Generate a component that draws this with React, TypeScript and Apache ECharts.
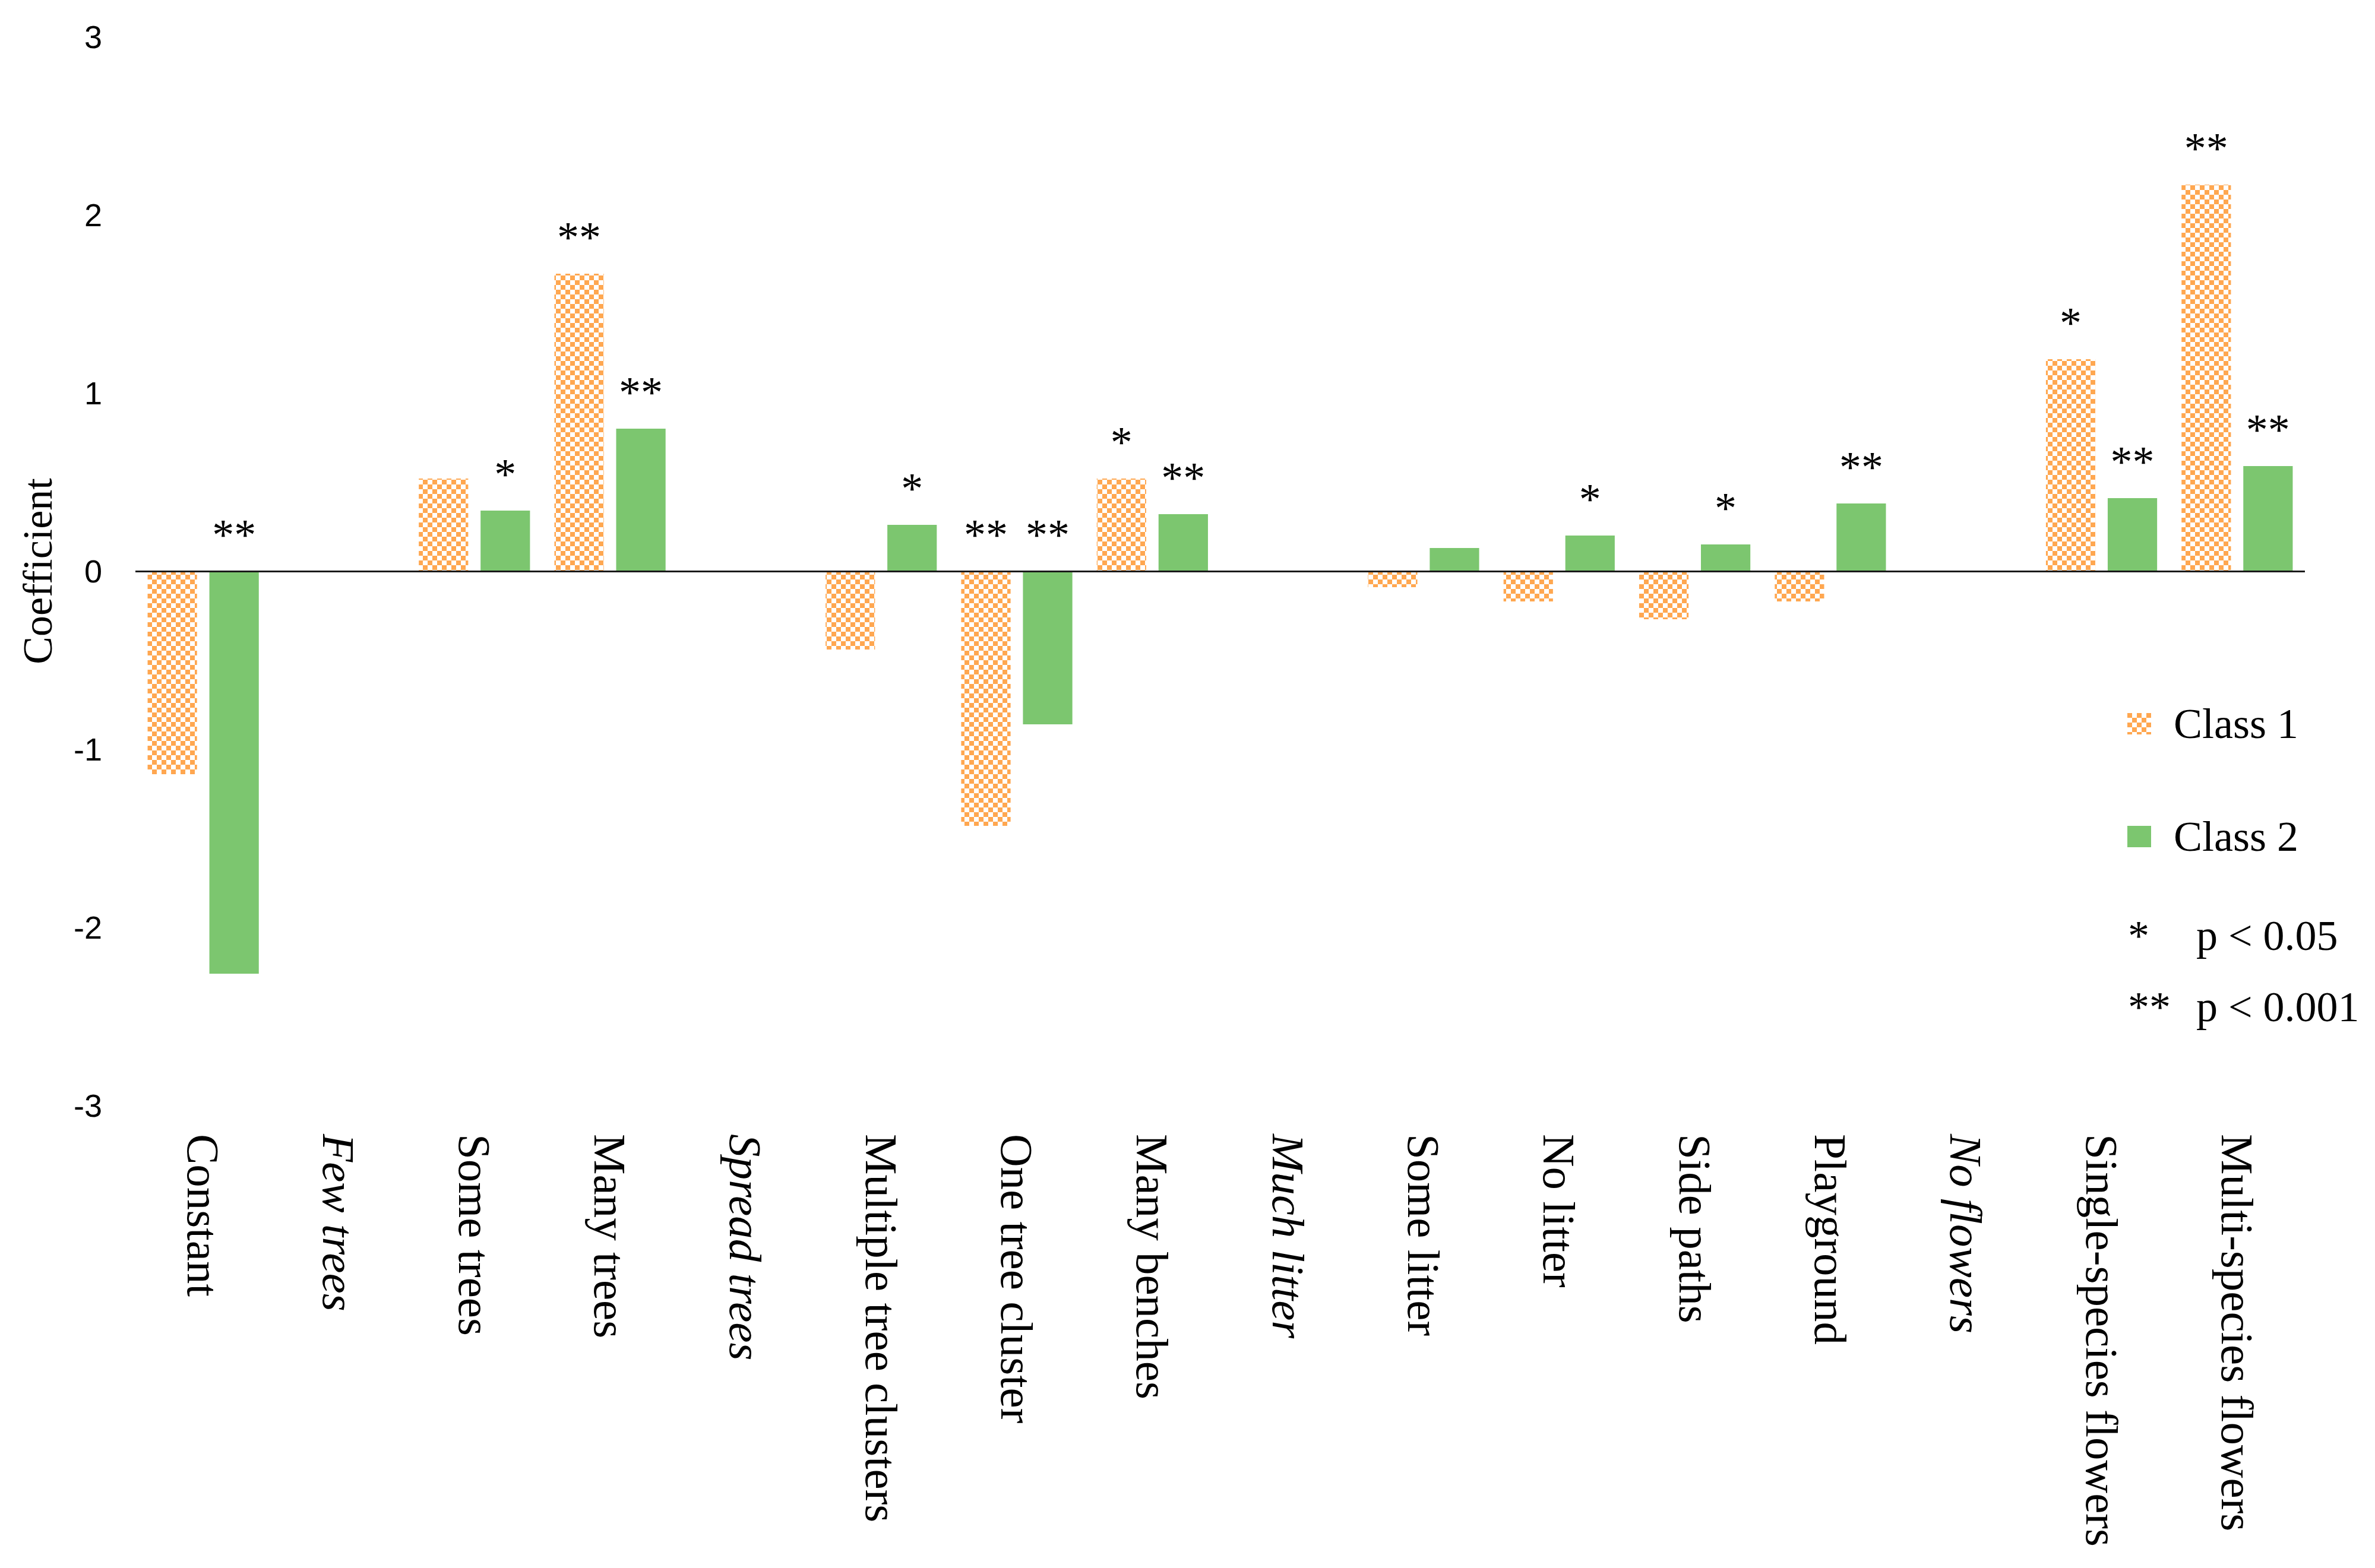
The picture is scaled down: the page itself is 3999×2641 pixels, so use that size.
import React, { useEffect, useRef } from "react";
import * as echarts from "echarts";

const categories = [
  "Constant",
  "Few trees",
  "Some trees",
  "Many trees",
  "Spread trees",
  "Multiple tree clusters",
  "One tree cluster",
  "Many benches",
  "Much litter",
  "Some litter",
  "No litter",
  "Side paths",
  "Playground",
  "No flowers",
  "Single-species flowers",
  "Multi-species flowers",
];

const referenceLevels = ["Few trees", "Spread trees", "Much litter", "No flowers"];

const class1Values = [-1.14, null, 0.52, 1.67, null, -0.44, -1.43, 0.52, null, -0.09, -0.17, -0.27, -0.17, null, 1.19, 2.17];
const class2Values = [-2.26, null, 0.34, 0.8, null, 0.26, -0.86, 0.32, null, 0.13, 0.2, 0.15, 0.38, null, 0.41, 0.59];

const class1Sig = ["", "", "", "**", "", "", "**", "*", "", "", "", "", "", "", "*", "**"];
const class2Sig = ["**", "", "*", "**", "", "*", "**", "**", "", "", "*", "*", "**", "", "**", "**"];

const yTicks = { min: -3, max: 3, interval: 1 };

const sigLegend = [
  { mark: "*", text: "p < 0.05" },
  { mark: "**", text: "p < 0.001" },
];

const SERIF = "'Liberation Serif', 'Times New Roman', serif";
const SANS = "'Liberation Sans', Arial, sans-serif";
const ORANGE = "#FFA750";
const GREEN = "#7CC66F";

function makeChecker() {
  const c = document.createElement("canvas");
  c.width = 16;
  c.height = 16;
  const ctx = c.getContext("2d")!;
  ctx.fillStyle = "#ffffff";
  ctx.fillRect(0, 0, 16, 16);
  ctx.fillStyle = ORANGE;
  ctx.fillRect(0, 0, 8, 8);
  ctx.fillRect(8, 8, 8, 8);
  return { image: c, repeat: "repeat", imageWidth: 16, imageHeight: 16 } as any;
}

export default function App() {
  const ref = useRef<HTMLDivElement>(null);

  useEffect(() => {
    if (!ref.current) return;
    const chart = echarts.init(ref.current, null, { renderer: "svg" });
    const checker = makeChecker();

    const starLabel = (sig: string[]) => ({
      show: true,
      position: "top",
      distance: 24,
      fontFamily: SERIF,
      fontSize: 74,
      color: "#000",
      formatter: (p: any) => sig[p.dataIndex] || "",
    });

    const legendCommon = {
      left: 3582,
      orient: "vertical",
      padding: 0,
      itemWidth: 40,
      itemHeight: 36,
      icon: "rect",
      selectedMode: false,
      textStyle: {
        fontFamily: SERIF,
        fontSize: 72,
        color: "#000",
        lineHeight: 36,
        padding: [0, 0, 0, 33],
      },
    };

    const option: any = {
      animation: false,
      backgroundColor: "#ffffff",
      grid: { left: 228, right: 118, top: 62, bottom: 779, containLabel: false },
      legend: [
        { ...legendCommon, data: ["Class 1"], top: 1183 },
        { ...legendCommon, data: ["Class 2"], top: 1373 },
      ],
      xAxis: {
        type: "category",
        data: categories,
        position: "bottom",
        axisLine: { show: false, onZero: false },
        axisTick: { show: false },
        splitLine: { show: false },
        axisLabel: {
          rotate: -90,
          margin: 48,
          interval: 0,
          color: "#000",
          fontFamily: SERIF,
          fontSize: 77,
          formatter: (v: string) =>
            referenceLevels.includes(v) ? `{i|${v}}` : `{n|${v}}`,
          rich: {
            i: { fontFamily: SERIF, fontSize: 77, fontStyle: "italic", color: "#000" },
            n: { fontFamily: SERIF, fontSize: 77, color: "#000" },
          },
        },
      },
      yAxis: {
        type: "value",
        min: yTicks.min,
        max: yTicks.max,
        interval: yTicks.interval,
        name: "Coefficient",
        nameLocation: "middle",
        nameGap: 130,
        nameTextStyle: { fontFamily: SERIF, fontSize: 70, color: "#000" },
        axisLine: { show: false },
        axisTick: { show: false },
        splitLine: { show: false },
        axisLabel: { margin: 56, fontFamily: SANS, fontSize: 54, color: "#000" },
      },
      series: [
        {
          name: "Class 1",
          type: "bar",
          data: class1Values,
          barGap: "25%",
          barCategoryGap: "18%",
          itemStyle: { color: checker },
          label: starLabel(class1Sig),
        },
        {
          name: "Class 2",
          type: "bar",
          data: class2Values,
          barGap: "25%",
          barCategoryGap: "18%",
          itemStyle: { color: GREEN },
          label: starLabel(class2Sig),
          markLine: {
            silent: true,
            symbol: ["none", "none"],
            label: { show: false },
            lineStyle: { color: "#1a1a1a", width: 3, type: "solid" },
            data: [{ yAxis: 0 }],
          },
        },
      ],
      graphic: sigLegend.flatMap((row, i) => [
        {
          type: "text",
          x: 3583,
          y: 1576 + i * 120,
          style: {
            text: row.mark,
            fontFamily: SERIF,
            fontSize: 72,
            fill: "#000",
            verticalAlign: "middle",
          },
        },
        {
          type: "text",
          x: 3698,
          y: 1576 + i * 120,
          style: {
            text: row.text,
            fontFamily: SERIF,
            fontSize: 72,
            fill: "#000",
            verticalAlign: "middle",
          },
        },
      ]),
    };

    chart.setOption(option);
    return () => chart.dispose();
  }, []);

  return (
    <div
      ref={ref}
      style={{ position: "absolute", left: 0, top: 0, width: 3999, height: 2641 }}
    />
  );
}
